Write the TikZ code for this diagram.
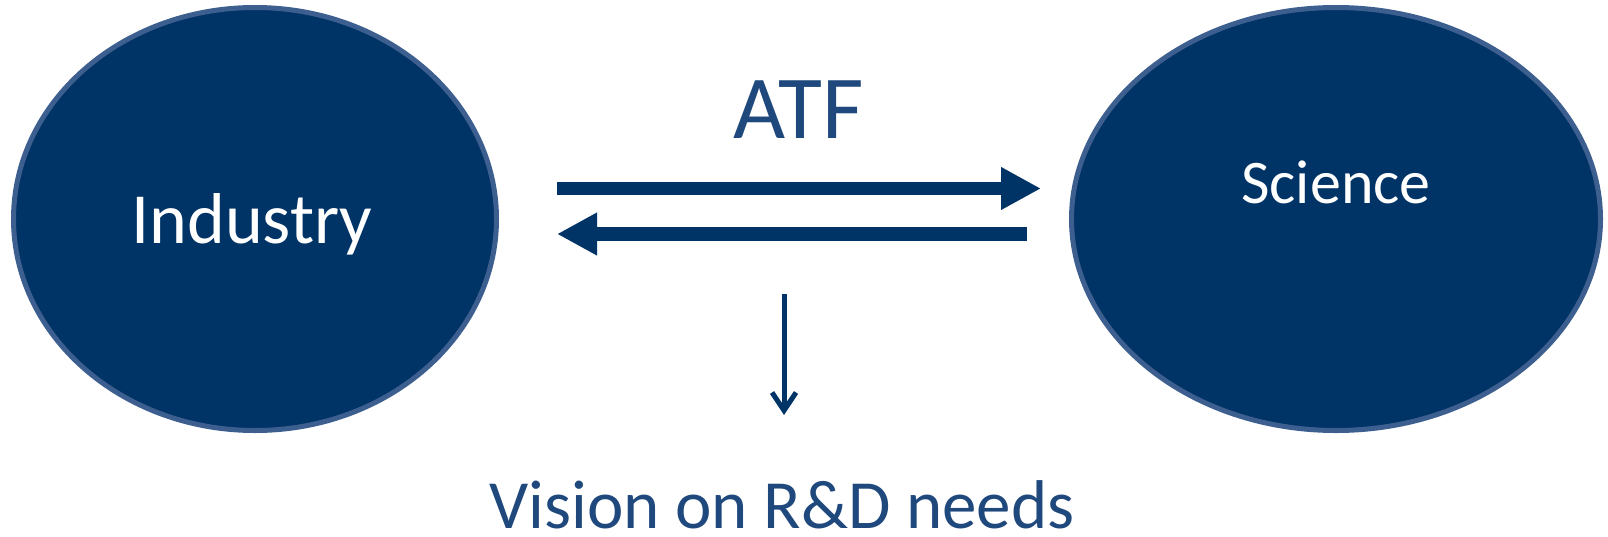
\documentclass[tikz,border=0pt]{standalone}
\usepackage{fontspec}
\setmainfont{Carlito}
\usetikzlibrary{arrows.meta,shapes.geometric}
\definecolor{navy}{HTML}{003366}
\definecolor{rim}{HTML}{3D5F8F}
\definecolor{txtblue}{HTML}{1F497D}
\begin{document}
\begin{tikzpicture}[x=1pt,y=-1pt,
  blob/.style={ellipse,draw=rim,line width=5pt,fill=navy,inner sep=0pt},
  bigarrow/.style={draw=navy,line width=13.5pt,-{Triangle[length=40pt,width=40pt]}},
  thinarrow/.style={draw=navy,line width=5pt,-{Straight Barb[length=18pt,width=24pt]}}]
\useasboundingbox (0,0) rectangle (1608,536);
\node[blob,minimum width=483pt,minimum height=423pt] (ind) at (255,219) {};
\node[blob,minimum width=529pt,minimum height=423pt] (sci) at (1336,219) {};
\node[anchor=base,text=white,font=\fontsize{72pt}{80pt}\selectfont] (indt) at (252,243) {Industry};
\node[anchor=base,text=white,font=\fontsize{62pt}{70pt}\selectfont] (scit) at (1336,203) {Science};
\node[anchor=base,text=txtblue,font=\fontsize{90pt}{100pt}\selectfont] (atf) at (799,138) {ATF};
\node[anchor=base,text=txtblue,text depth=0pt,inner sep=0pt,font=\fontsize{69pt}{78pt}\selectfont] (vis) at (782,528) {Vision on R\&D needs};
\coordinate (a1s) at (557,188.5);
\coordinate (a1e) at (1041,188.5);
\coordinate (a2s) at (1027,234);
\coordinate (a2e) at (557,234);
\coordinate (ds) at (784,294);
\coordinate (de) at (784,415);
\draw[bigarrow] (a1s) -- (a1e);
\draw[bigarrow] (a2s) -- (a2e);
\draw[thinarrow] (ds) -- (de);
\end{tikzpicture}
\end{document}
